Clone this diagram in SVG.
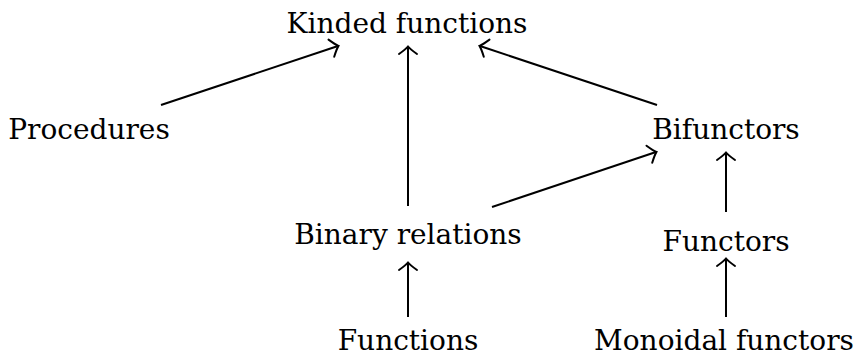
<svg xmlns="http://www.w3.org/2000/svg" width="860" height="359" viewBox="0 0 860 359">
<defs>
<style>
text{font-family:"DejaVu Serif","Liberation Serif",serif;font-size:28px;fill:#000;text-anchor:middle}
.e{stroke:#000;stroke-width:2;fill:none}
</style>
<marker id="to" markerUnits="userSpaceOnUse" markerWidth="24" markerHeight="24" viewBox="-12 -12 24 24" refX="0" refY="0" orient="auto">
<path d="M-7,-9 Q-2,-2 0.5,0 Q-2,2 -7,9" fill="none" stroke="#000" stroke-width="2" stroke-linecap="round"/>
</marker>
</defs>
<rect width="860" height="359" fill="#fff"/>
<g id="kinded"><text x="407" y="33">Kinded functions</text></g>
<g id="procedures"><text x="89" y="139">Procedures</text></g>
<g id="bifunctors"><text x="726" y="139">Bifunctors</text></g>
<g id="binrel"><text x="408" y="244">Binary relations</text></g>
<g id="functors"><text x="726" y="251">Functors</text></g>
<g id="functions"><text x="408" y="350">Functions</text></g>
<g id="monoidal"><text x="724" y="350">Monoidal functors</text></g>
<g id="edges" class="e">
<line class="e" x1="161" y1="105" x2="338" y2="46" marker-end="url(#to)"/>
<line class="e" x1="408" y1="206" x2="408" y2="47" marker-end="url(#to)"/>
<line class="e" x1="657" y1="105" x2="480" y2="46" marker-end="url(#to)"/>
<line class="e" x1="492" y1="207" x2="656" y2="152" marker-end="url(#to)"/>
<line class="e" x1="726" y1="212" x2="726" y2="153" marker-end="url(#to)"/>
<line class="e" x1="408" y1="317" x2="408" y2="263" marker-end="url(#to)"/>
<line class="e" x1="726" y1="317" x2="726" y2="259" marker-end="url(#to)"/>
</g>
</svg>
